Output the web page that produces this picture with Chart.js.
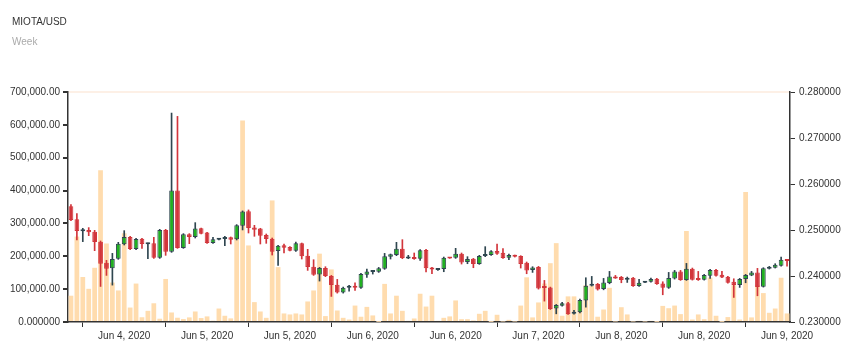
<!DOCTYPE html>
<html>
<head>
<meta charset="utf-8">
<script src="https://cdn.jsdelivr.net/npm/chart.js@4.4.1/dist/chart.umd.min.js"></script>
<style>
  html, body { margin: 0; padding: 0; background: #fff; }
  #wrap { position: relative; width: 860px; height: 352px; }
  .head { position: absolute; left: 12px; font: 10px/12px 'Liberation Sans', Arial, sans-serif; white-space: nowrap; }
  #title { top: 15.5px; color: #333; }
  #subtitle { top: 35.5px; color: #aaa; }
</style>
</head>
<body>
<div id="wrap">
  <canvas id="candle-chart" width="860" height="352"></canvas>
  <div class="head" id="title">MIOTA/USD</div>
  <div class="head" id="subtitle">Week</div>
</div>
<script>
// hourly candles, MIOTA/USD
const open = [
  0.25516, 0.25233, 0.24972, 0.25001, 0.24964, 0.24747, 0.24289, 0.24166, 0.24376, 0.24688,
  0.24848, 0.24587, 0.24812, 0.24688, 0.24710, 0.24398, 0.25001, 0.24529, 0.25858, 0.24609,
  0.24906, 0.24848, 0.25037, 0.24943, 0.24717, 0.24790, 0.24805, 0.24841, 0.24797, 0.25095,
  0.25407, 0.25052, 0.25030, 0.24892, 0.24812, 0.24543, 0.24667, 0.24630, 0.24550, 0.24710,
  0.24442, 0.24202, 0.24035, 0.24173, 0.23999, 0.23810, 0.23643, 0.23744, 0.23766, 0.23744,
  0.24028, 0.24086, 0.24093, 0.24158, 0.24420, 0.24456, 0.24594, 0.24383, 0.24398, 0.24376,
  0.24565, 0.24180, 0.24129, 0.24151, 0.24398, 0.24398, 0.24485, 0.24304, 0.24376, 0.24260,
  0.24434, 0.24456, 0.24543, 0.24507, 0.24398, 0.24442, 0.24434, 0.24289, 0.24129, 0.24195,
  0.23759, 0.23752, 0.23294, 0.23352, 0.23410, 0.23178, 0.23214, 0.23468, 0.23788, 0.23824,
  0.23715, 0.23846, 0.23991, 0.23977, 0.23919, 0.23962, 0.23781, 0.23853, 0.23875, 0.23940,
  0.23839, 0.23744, 0.23948, 0.24100, 0.23911, 0.24158, 0.23948, 0.23919, 0.24006, 0.24129,
  0.24028, 0.23984, 0.23875, 0.23802, 0.23933, 0.24013, 0.24078, 0.23766, 0.24158, 0.24180,
  0.24224, 0.24354
];
const high = [
  0.25553, 0.25357, 0.25037, 0.25052, 0.24993, 0.24761, 0.24340, 0.24492, 0.24732, 0.24986,
  0.24863, 0.24819, 0.24819, 0.24717, 0.24841, 0.25015, 0.25015, 0.27542, 0.27470, 0.24921,
  0.24921, 0.25160, 0.25044, 0.24950, 0.24841, 0.24819, 0.24863, 0.24848, 0.25117, 0.25415,
  0.25436, 0.25102, 0.25037, 0.24913, 0.24826, 0.24667, 0.24696, 0.24638, 0.24739, 0.24717,
  0.24580, 0.24354, 0.24187, 0.24202, 0.24013, 0.23926, 0.23759, 0.23795, 0.23853, 0.24057,
  0.24151, 0.24122, 0.24187, 0.24492, 0.24478, 0.24732, 0.24790, 0.24449, 0.24500, 0.24572,
  0.24580, 0.24187, 0.24158, 0.24412, 0.24398, 0.24601, 0.24500, 0.24420, 0.24383, 0.24449,
  0.24638, 0.24550, 0.24696, 0.24594, 0.24478, 0.24456, 0.24442, 0.24304, 0.24202, 0.24209,
  0.23904, 0.23759, 0.23381, 0.23425, 0.23425, 0.23251, 0.23497, 0.23962, 0.23991, 0.23839,
  0.23948, 0.24100, 0.24013, 0.23991, 0.23977, 0.23969, 0.23926, 0.23882, 0.23955, 0.23948,
  0.23875, 0.24078, 0.24122, 0.24122, 0.24274, 0.24173, 0.24100, 0.24035, 0.24144, 0.24144,
  0.24100, 0.23991, 0.23940, 0.23948, 0.24035, 0.24100, 0.24166, 0.24180, 0.24209, 0.24267,
  0.24412, 0.24362
];
const low = [
  0.25204, 0.24783, 0.24747, 0.24877, 0.24550, 0.23773, 0.24013, 0.23802, 0.24362, 0.24674,
  0.24572, 0.24572, 0.24601, 0.24376, 0.24383, 0.24383, 0.24449, 0.24514, 0.24601, 0.24601,
  0.24703, 0.24826, 0.24913, 0.24710, 0.24710, 0.24783, 0.24659, 0.24696, 0.24783, 0.25001,
  0.24935, 0.24863, 0.24696, 0.24710, 0.24456, 0.24231, 0.24500, 0.24543, 0.24536, 0.24369,
  0.24122, 0.24013, 0.23890, 0.23985, 0.23556, 0.23628, 0.23628, 0.23672, 0.23686, 0.23730,
  0.23970, 0.24042, 0.24078, 0.24144, 0.24369, 0.24442, 0.24376, 0.24376, 0.24362, 0.24340,
  0.24086, 0.24049, 0.24122, 0.24093, 0.24383, 0.24383, 0.24260, 0.24267, 0.24180, 0.24253,
  0.24420, 0.24449, 0.24471, 0.24383, 0.24354, 0.24412, 0.24173, 0.24049, 0.24078, 0.23715,
  0.23454, 0.23272, 0.23178, 0.23345, 0.23163, 0.23171, 0.23200, 0.23323, 0.23781, 0.23693,
  0.23700, 0.23831, 0.23948, 0.23853, 0.23860, 0.23773, 0.23773, 0.23853, 0.23868, 0.23817,
  0.23592, 0.23730, 0.23933, 0.23904, 0.23904, 0.23911, 0.23904, 0.23911, 0.23948, 0.23999,
  0.23962, 0.23846, 0.23534, 0.23752, 0.23853, 0.24006, 0.23570, 0.23759, 0.24151, 0.24173,
  0.24216, 0.24216
];
const close = [
  0.25219, 0.24979, 0.24986, 0.24950, 0.24739, 0.24267, 0.24158, 0.24369, 0.24703, 0.24848,
  0.24587, 0.24805, 0.24696, 0.24703, 0.24398, 0.25001, 0.24529, 0.25858, 0.24609, 0.24906,
  0.24848, 0.25030, 0.24921, 0.24717, 0.24797, 0.24812, 0.24834, 0.24790, 0.25102, 0.25400,
  0.25044, 0.25008, 0.24877, 0.24805, 0.24529, 0.24659, 0.24616, 0.24550, 0.24710, 0.24427,
  0.24195, 0.24028, 0.24173, 0.23999, 0.23802, 0.23643, 0.23744, 0.23773, 0.23744, 0.24042,
  0.24100, 0.24115, 0.24166, 0.24427, 0.24471, 0.24594, 0.24391, 0.24398, 0.24369, 0.24558,
  0.24166, 0.24144, 0.24151, 0.24398, 0.24383, 0.24485, 0.24296, 0.24369, 0.24260, 0.24434,
  0.24463, 0.24536, 0.24485, 0.24391, 0.24456, 0.24420, 0.24260, 0.24122, 0.24187, 0.23730,
  0.23737, 0.23280, 0.23367, 0.23410, 0.23171, 0.23221, 0.23476, 0.23788, 0.23824, 0.23708,
  0.23860, 0.23991, 0.23948, 0.23911, 0.23962, 0.23781, 0.23853, 0.23875, 0.23933, 0.23824,
  0.23744, 0.23955, 0.24100, 0.23911, 0.24158, 0.23919, 0.23911, 0.24020, 0.24129, 0.24006,
  0.23970, 0.23853, 0.23802, 0.23933, 0.24020, 0.24078, 0.23759, 0.24166, 0.24195, 0.24245,
  0.24354, 0.24325
];
const volume = [
  80000, 260000, 137000, 101000, 165000, 462000, 239000, 120000, 96000, 270000,
  44000, 117000, 14500, 34000, 57000, 10000, 131000, 29000, 13000, 9000,
  14000, 32000, 12000, 17000, 4000, 41000, 19000, 11000, 258000, 613000,
  233000, 60500, 32000, 12700, 370000, 167000, 26000, 23000, 26000, 23000,
  62500, 96000, 208000, 18000, 160000, 35000, 12700, 7600, 50000, 16000,
  46000, 20000, 500, 116000, 26000, 80000, 34000, 3600, 10700, 86000,
  47000, 80000, 3600, 12700, 17000, 65600, 8600, 8600, 4600, 25000,
  34000, 500, 22000, 1500, 6600, 1500, 50000, 136000, 14000, 59500,
  117000, 179000, 240000, 19000, 78000, 78000, 63500, 112000, 110000, 16000,
  38000, 104000, 1500, 45000, 23000, 1500, 3600, 1500, 3600, 500,
  49000, 42000, 50000, 24000, 277000, 7600, 23000, 8600, 135000, 19000,
  500, 15000, 112000, 7600, 396000, 14000, 112000, 88000, 28000, 41000,
  134700, 26000
];
// axis labels: one every 14 candles, placed halfway between the tick marks
const tickLabels = [
  'Jun 4, 2020', 'Jun 5, 2020', 'Jun 5, 2020', 'Jun 6, 2020', 'Jun 6, 2020',
  'Jun 7, 2020', 'Jun 8, 2020', 'Jun 8, 2020', 'Jun 9, 2020'
];
const firstTick = 2;
const tickStep = 14;

const categories = open.map((_, i) => i);

const UP = '#21b021';
const UP_EDGE = '#2f4650';
const DOWN = '#d2353b';
const isUp = open.map((o, i) => close[i] >= o);

const FONT = 'Liberation Sans, Arial, sans-serif';
const TXT = '#333';

const ctx = document.getElementById('candle-chart');
new Chart(ctx, {
    data: {
        labels: categories,
        datasets: [
            {
                type: 'bar',
                label: 'Volume',
                data: volume,
                yAxisID: 'y',
                backgroundColor: '#ffdcae',
                barPercentage: 0.8,
                categoryPercentage: 1,
                grouped: false,
                order: 3
            },
            {
                type: 'bar',
                label: 'Wick',
                data: low.map((l, i) => [l, high[i]]),
                yAxisID: 'y1',
                backgroundColor: isUp.map(u => u ? UP_EDGE : DOWN),
                barThickness: 1,
                grouped: false,
                order: 2
            },
            {
                type: 'bar',
                label: 'Body',
                data: open.map((o, i) => [o, close[i]]),
                yAxisID: 'y1',
                backgroundColor: isUp.map(u => u ? UP : DOWN),
                borderColor: isUp.map(u => u ? UP_EDGE : DOWN),
                borderWidth: 1,
                borderSkipped: false,
                minBarLength: 2,
                barPercentage: 0.8,
                categoryPercentage: 1,
                grouped: false,
                order: 1
            }
        ]
    },
    options: {
        responsive: false,
        animation: false,
        devicePixelRatio: 1,
        layout: { padding: { left: 0, right: 0, top: 92, bottom: 0 } },
        plugins: {
            legend: { display: false },
            tooltip: { enabled: false }
        },
        scales: {
            x: {
                type: 'category',
                offset: true,
                grid: {
                    offset: false,
                    drawOnChartArea: false,
                    tickLength: 5,
                    tickColor: c => ((c.index - firstTick) % tickStep === 0 && c.index >= firstTick) ? TXT : 'rgba(0,0,0,0)'
                },
                border: { color: TXT, width: 1.5 },
                ticks: {
                    autoSkip: false,
                    maxRotation: 0,
                    minRotation: 0,
                    padding: 3,
                    color: TXT,
                    font: { family: FONT, size: 10 },
                    callback: function(value, index) {
                        const k = index - firstTick - tickStep / 2;
                        if (k >= 0 && k % tickStep === 0) return tickLabels[k / tickStep] || '';
                        return '';
                    }
                },
                afterFit: s => { s.height = 30; }
            },
            y: {
                position: 'left',
                min: 0,
                max: 700000,
                grid: {
                    color: c => c.tick && c.tick.value === 700000 ? '#fdf0e6' : 'rgba(0,0,0,0)',
                    lineWidth: 2,
                    tickColor: TXT,
                    tickLength: 5
                },
                border: { color: TXT, width: 1.5 },
                ticks: {
                    stepSize: 100000,
                    padding: 3,
                    color: TXT,
                    font: { family: FONT, size: 10 },
                    callback: v => v === 0 ? '0.000000' :
                        v.toLocaleString('en-US', { minimumFractionDigits: 2, maximumFractionDigits: 2 })
                },
                afterFit: s => { s.width = 68; }
            },
            y1: {
                position: 'right',
                min: 0.23,
                max: 0.28,
                grid: {
                    drawOnChartArea: false,
                    tickColor: TXT,
                    tickLength: 5
                },
                border: { color: TXT, width: 1.5 },
                ticks: {
                    stepSize: 0.01,
                    padding: 4,
                    color: TXT,
                    font: { family: FONT, size: 10 },
                    callback: v => v.toFixed(6)
                },
                afterFit: s => { s.width = 70; }
            }
        }
    }
});
</script>
</body>
</html>
